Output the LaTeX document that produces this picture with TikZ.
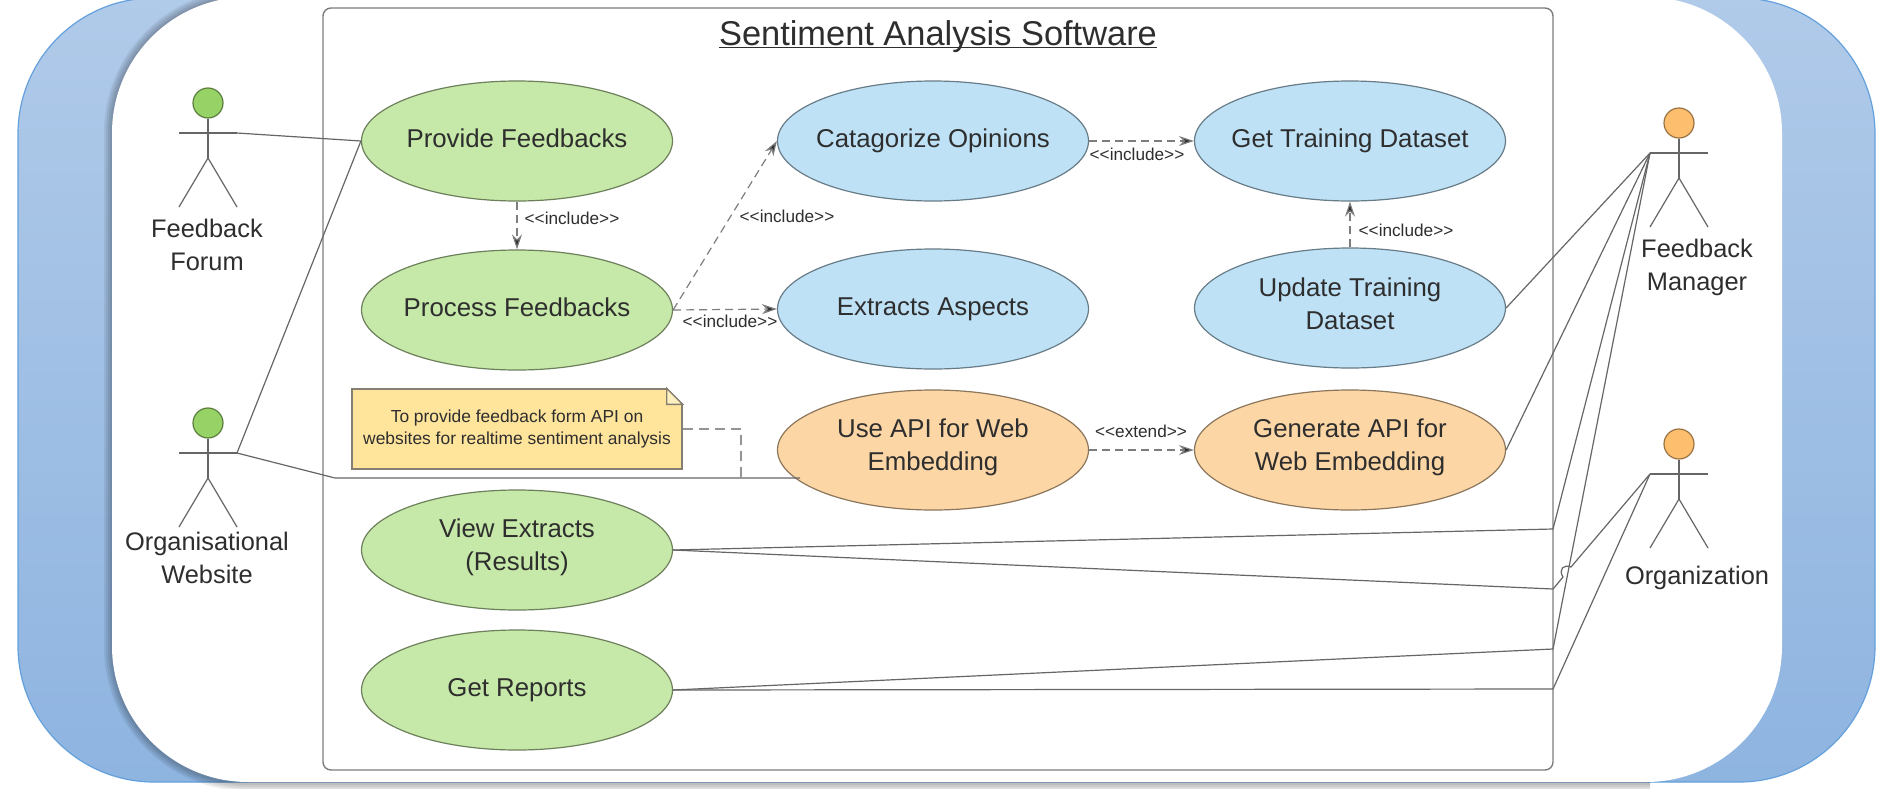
\documentclass[tikz,border=0pt]{standalone}
\usepackage{fontspec}
\setmainfont{Liberation Sans}
\usetikzlibrary{arrows.meta,shapes.geometric,calc}
\definecolor{ink}{HTML}{2E2E2E}
\definecolor{edge}{HTML}{666666}
\definecolor{greenuc}{HTML}{C6E8A8}
\definecolor{blueuc}{HTML}{BEE1F6}
\definecolor{orangeuc}{HTML}{FDD6A6}
\definecolor{greenhead}{HTML}{97D267}
\definecolor{orangehead}{HTML}{FDBE6E}
\definecolor{notey}{HTML}{FFE49C}
\definecolor{noteyl}{HTML}{FFF0C0}
\definecolor{bluetop}{HTML}{B0CAE9}
\definecolor{bluebot}{HTML}{8EB4E0}
\definecolor{blueline}{HTML}{64A0DC}
\tikzset{
  x=0.5pt,y=-0.5pt,
  usecase/.style={ellipse,draw=#1!55!black,fill=#1,line width=0.6pt,minimum width=155.5pt,minimum height=60pt,inner sep=0pt},
  casetext/.style={align=center,text=ink,inner sep=0pt,font=\fontsize{12.9}{16.5}\selectfont},
  actorlabel/.style={align=center,text=ink,font=\fontsize{12.7}{16.5}\selectfont},
  head/.style={circle,draw=#1!60!black,fill=#1,line width=0.6pt,minimum size=15pt,inner sep=0pt},
  limb/.style={draw=edge,line width=0.6pt},
  assoc/.style={draw=edge,line width=0.6pt},
  notelink/.style={draw=edge!70,line width=0.55pt,dash pattern=on 5pt off 3pt},
  incl/.style={draw=edge!85,line width=0.6pt,dash pattern=on 4pt off 2.5pt,-{Stealth[length=7.5pt,width=5pt,fill=ink]}},
  stereo/.style={text=ink,inner sep=0pt,font=\fontsize{8.6}{10}\selectfont},
  notebox/.style={draw=edge!80!notey,fill=notey,line width=0.7pt,minimum width=165pt,minimum height=40pt,inner sep=0pt,align=center,text=ink,font=\fontsize{8.7}{11}\selectfont},
  sysbox/.style={draw=edge!85,line width=0.7pt,rounded corners=4pt},
  panelcorner/.style={rounded corners=68pt},
}
% name, colour, x, y, text, upward shift of the text in pt
\newcommand{\usecasenode}[6]{%
  \node[usecase=#2,label={[casetext,yshift=#6pt]center:#5}] (#1) at (#3,#4) {};
}
\newcommand{\stickman}[4]{%
  \node[head=#4] (#1h) at (#2,#3) {};
  \coordinate (#1l) at (#2-29,#3+30);
  \coordinate (#1r) at (#2+29,#3+30);
  \coordinate (#1w) at (#2,#3+55);
  \coordinate (#1fl) at (#2-29,#3+104);
  \coordinate (#1fr) at (#2+29,#3+104);
  \draw[limb] (#1h) -- (#1w);
  \draw[limb] (#1l) -- (#1r);
  \draw[limb] (#1fl) -- (#1w) -- (#1fr);
}
\begin{document}
\begin{tikzpicture}
\useasboundingbox (0,0) rectangle (1886,788);
\clip (0,0) rectangle (1886,788);
\fill[white] (0,0) rectangle (1886,788);
% blue backdrop
\shade[top color=bluetop,bottom color=bluebot,panelcorner]
  (18,-2) rectangle (1875,782);
\draw[draw=blueline,line width=0.6pt,panelcorner]
  (18,-2) rectangle (1875,782);
% soft shadow of the white panel, left and below only
\foreach \w in {8,6,4,2}{
  \draw[black,opacity=0.07,line width=\w pt,panelcorner] (260,-3) -- (112,-3) -- (112,783) -- (1650,783);
}
\fill[white,panelcorner] (112,-3) rectangle (1782,782);
% system boundary
\node[anchor=base,font=\fontsize{17.2}{20}\selectfont,text=ink,inner sep=0pt] (title) at (938,45) {\underline{\smash{Sentiment Analysis Software}}};
\draw[sysbox] (323,8) rectangle (1553,770);
% use cases
\usecasenode{provide}{greenuc}{517}{141}{Provide Feedbacks}{1.2}
\usecasenode{process}{greenuc}{517}{310}{Process Feedbacks}{1.2}
\usecasenode{cat}{blueuc}{933}{141}{Catagorize Opinions}{0}
\usecasenode{ext}{blueuc}{933}{309}{Extracts Aspects}{0}
\usecasenode{train}{blueuc}{1350}{141}{Get Training Dataset}{0}
\usecasenode{update}{blueuc}{1350}{308}{Update Training\\Dataset}{2.2}
\usecasenode{useapi}{orangeuc}{933}{450}{Use API for Web\\Embedding}{1.2}
\usecasenode{genapi}{orangeuc}{1350}{450}{Generate API for\\Web Embedding}{1.2}
\usecasenode{view}{greenuc}{517}{550}{View Extracts\\(Results)}{1.2}
\usecasenode{reports}{greenuc}{517}{690}{Get Reports}{0}
% actors
\stickman{fo}{208}{103}{greenhead}
\stickman{we}{208}{423}{greenhead}
\stickman{ma}{1679}{123}{orangehead}
\stickman{og}{1679}{444}{orangehead}
\node[actorlabel] (folabel) at (207,245) {Feedback\\Forum};
\node[actorlabel] (welabel) at (207,558) {Organisational\\Website};
\node[actorlabel] (malabel) at (1697,267) {Feedback\\Manager};
\node[actorlabel] (oglabel) at (1697,578) {Organization};
% note
\node[notebox] (note) at (517,429) {To provide feedback form API on\\websites for realtime sentiment analysis};
\fill[white] ($(note.north east)+(-16,-1)$) -- ($(note.north east)+(1,-1)$) -- ($(note.north east)+(1,16)$) -- cycle;
\draw[draw=edge!80!notey,fill=noteyl,line width=0.7pt] ($(note.north east)+(-16,0)$) -- ($(note.north east)+(0,16)$) -- ($(note.north east)+(-16,16)$) -- cycle;
% associations
\coordinate (elbowa) at (335,478);
\coordinate (apientry) at (800,478);
\coordinate (notejoin) at (741,478);
\coordinate (notecorner) at (741,429);
\coordinate (vm) at (1553,529);
\coordinate (vo) at (1553,589);
\coordinate (rm) at (1553,649);
\coordinate (ro) at (1553,689);
\coordinate (hopa) at (1563,577);
\coordinate (hopb) at (1571,567);
\draw[assoc] (for) -- (provide.west);
\draw[assoc] (wer) -- (provide.west);
\draw[assoc] (wer) -- (elbowa) -- (apientry);
\draw[notelink] (note.east) -- (notecorner) -- (notejoin);
\draw[assoc] (update.east) -- (mal);
\draw[assoc] (genapi.east) -- (mal);
\draw[assoc] (view.east) -- (vm) -- (mal);
\draw[assoc] (view.east) -- (vo) -- (hopa) .. controls (1558,569) and (1564,564) .. (hopb) -- (ogl);
\draw[assoc] (reports.east) -- (rm) -- (mal);
\draw[assoc] (reports.east) -- (ro) -- (ogl);
% includes
\draw[incl] (provide.south) -- (process.north);
\draw[incl] (process.east) -- (cat.west);
\draw[incl] (process.east) -- (ext.west);
\draw[incl] (cat.east) -- (train.west);
\draw[incl] (update.north) -- (train.south);
\draw[incl] (useapi.east) -- (genapi.west);
\node[stereo] (s1) at (572,218) {<{}<include>{}>};
\node[stereo] (s2) at (787,216) {<{}<include>{}>};
\node[stereo] (s3) at (730,321) {<{}<include>{}>};
\node[stereo] (s4) at (1137,154) {<{}<include>{}>};
\node[stereo] (s5) at (1406,230) {<{}<include>{}>};
\node[stereo] (s6) at (1141,431) {<{}<extend>{}>};
\end{tikzpicture}
\end{document}
